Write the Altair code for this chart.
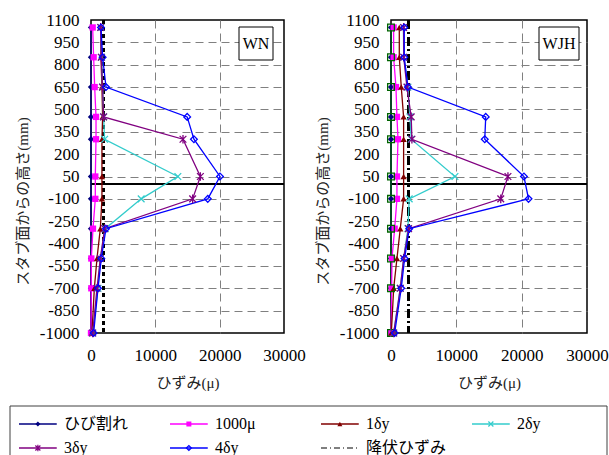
import altair as alt
import pandas as pd

# ---------------- data ----------------
heights = [1050, 850, 650, 450, 300, 50, -100, -300, -500, -700, -1000]
y_ticks = [1100, 950, 800, 650, 500, 350, 200, 50, -100, -250, -400, -550, -700, -850, -1000]
x_ticks = [0, 10000, 20000, 30000]

# WN
wn_crack = [0, 0, 0, 0, 0, 0, 0, 0, 0, 0, 0]
wn_1000 = [260, 410, 570, 780, 780, 670, 670, 310, 50, 50, 0]
wn_d1 = [1550, 1550, 1700, 1810, 1700, 1700, 1700, 1450, 930, 520, 150]
wn_d2 = [1550, 1650, 1800, 1960, 2120, 13500, 7800, 2220, 1450, 1090, 260]
wn_d3 = [1500, 1600, 1800, 1960, 14300, 17000, 15800, 2120, 1450, 930, 260]
wn_d4 = [1550, 1810, 2330, 14950, 16000, 20050, 18150, 2330, 1600, 1090, 410]
wn_yield = 1950

# WJH
wjh_crack = [0, 0, 0, 0, 0, 0, 0, 0, 0, 0, 0]
wjh_other = [0, 0, 0, 0, 0, 0, 0, 0, 0, 0, 0]
wjh_1000 = [400, 400, 760, 910, 1070, 910, 910, 560, 150, 100, 0]
wjh_d1 = [1270, 1270, 1570, 1930, 1930, 1930, 1930, 1420, 910, 410, 50]
wjh_d2 = [1900, 1950, 2590, 2900, 3100, 9790, 2790, 2590, 1930, 1420, 410]
wjh_d3 = [1930, 1950, 2440, 3090, 3200, 17900, 16800, 2690, 1930, 1420, 410]
wjh_d4 = [2030, 2030, 2590, 14500, 14350, 20350, 21050, 2790, 2080, 1570, 560]
wjh_yield = 2700

legend_names = ["ひび割れ", "1000μ", "1δy", "2δy", "3δy", "4δy", "降伏ひずみ"]
legend_col = [0, 1, 2, 3, 0, 1, 2]
legend_row = [0, 0, 0, 0, 1, 1, 1]

# ---------------- styles ----------------
color_map = {
    "ひび割れ": "#000080",
    "その他": "#006400",
    "1000μ": "#FF00FF",
    "1δy": "#800000",
    "2δy": "#33CCCC",
    "3δy": "#800080",
    "4δy": "#0000FF",
    "降伏ひずみ": "#000000",
}
X_PATH = "M-1,-1L1,1M-1,1L1,-1"
AST_PATH = "M-1,-1L1,1M-1,1L1,-1M0,-1.3L0,1.3"
shape_map = {
    "ひび割れ": "diamond",
    "その他": "square",
    "1000μ": "square",
    "1δy": "triangle-up",
    "2δy": X_PATH,
    "3δy": AST_PATH,
    "4δy": "diamond",
    "降伏ひずみ": "circle",
}
filled_series = ["ひび割れ", "1000μ", "1δy"]
open_series = ["その他", "2δy", "3δy", "4δy"]

color_scale = alt.Scale(domain=list(color_map.keys()), range=list(color_map.values()))
shape_scale = alt.Scale(domain=list(shape_map.keys()), range=list(shape_map.values()))

SERIF = "Liberation Serif, Noto Sans CJK JP"


def make_df(values):
    rows = []
    for s, vals in values.items():
        for i, (h, v) in enumerate(zip(heights, vals)):
            rows.append({"series": s, "h": h, "v": v, "idx": i})
    return pd.DataFrame(rows)


def panel(label, values, yld, ydash, ywidth, width, box_w):
    df = make_df(values)
    xs = alt.Scale(domain=[0, 30000], nice=False, zero=False)
    ys = alt.Scale(domain=[-1000, 1100], nice=False, zero=False)
    xax = alt.Axis(
        values=x_ticks, tickCount=10, title="ひずみ(μ)", labelExpr="'' + datum.value",
        grid=True, gridDash=[8, 5], gridColor="#808080", gridWidth=1,
        gridOpacity={"condition": {"test": "datum.value > 0 && datum.value < 30000", "value": 1}, "value": 0},
        ticks=False, domain=False, labelFont="Liberation Serif", labelFontSize=17, labelColor="black",
        labelFlush=False, labelOverlap=False, labelBound=False,
        labelPadding=14, titleFont=SERIF, titleFontSize=15, titleFontWeight="normal",
        titleColor="#222", titleY=49, titleBaseline="middle",
    )
    yax = alt.Axis(
        values=y_ticks, tickCount=30, title="スタブ面からの高さ(mm)", labelExpr="'' + datum.value",
        grid=True, gridDash=[8, 5], gridColor="#808080", gridWidth=1,
        gridOpacity={"condition": {"test": "datum.value > -1000 && datum.value < 1100", "value": 1}, "value": 0},
        ticks=False, domain=False, labelFont="Liberation Serif", labelFontSize=17, labelColor="black",
        labelFlush=False, labelOverlap=False, labelBound=False,
        labelPadding=12, titleFont=SERIF, titleFontSize=15, titleFontWeight="normal",
        titleColor="#222", titleX=-69, titleY=181, titleBaseline="middle",
    )
    x = alt.X("v:Q", scale=xs, axis=xax)
    y = alt.Y("h:Q", scale=ys, axis=yax)
    color = alt.Color("series:N", scale=color_scale, legend=None)
    shape = alt.Shape("series:N", scale=shape_scale, legend=None)
    base = alt.Chart(df)

    zero_rule = base.mark_rule(color="black", strokeWidth=1.2).encode(y=alt.datum(0))
    yield_rule = base.mark_rule(color="black", strokeWidth=ywidth, strokeDash=ydash).encode(x=alt.datum(yld))
    lines = base.mark_line(strokeWidth=1.3).encode(x=x, y=y, color=color, order="idx:Q")
    pts_f = base.transform_filter(
        alt.FieldOneOfPredicate(field="series", oneOf=filled_series)
    ).mark_point(filled=True, size=40, opacity=1).encode(x=x, y=y, color=color, shape=shape)
    pts_o = base.transform_filter(
        alt.FieldOneOfPredicate(field="series", oneOf=open_series)
    ).mark_point(filled=False, size=45, strokeWidth=1.3, opacity=1).encode(x=x, y=y, color=color, shape=shape)

    lab = pd.DataFrame({"t": [label]})
    box = alt.Chart(lab).mark_rect(fill="white", stroke="black", strokeWidth=1).encode(
        x=alt.value(148), x2=alt.value(148 + box_w), y=alt.value(7), y2=alt.value(40)
    )
    txt = alt.Chart(lab).mark_text(font="Liberation Serif", fontSize=16, color="black", baseline="middle").encode(
        x=alt.value(148 + box_w / 2), y=alt.value(24), text="t:N"
    )
    return alt.layer(zero_rule, yield_rule, lines, pts_f, pts_o, box, txt)


# ---------------- legend (drawn below, relative to the WN plot origin) ----------------
leg = pd.DataFrame({"series": legend_names, "col": legend_col, "row": legend_row})
leg["col_end"] = leg["col"] + 0.25
leg["col_mid"] = leg["col"] + 0.125
lxs = alt.Scale(domain=[0, 4], range=[-72, 532])
lys = alt.Scale(domain=[0, 1], range=[404, 428])
lbase = alt.Chart(leg)
lx = alt.X("col:Q", scale=lxs, axis=None)
ly = alt.Y("row:Q", scale=lys, axis=None)
lcolor = alt.Color("series:N", scale=color_scale, legend=None)
lshape = alt.Shape("series:N", scale=shape_scale, legend=None)

frame_df = pd.DataFrame({"k": [0]})
fb = alt.Chart(frame_df).mark_rule(color="#404040", strokeWidth=1)
frame_top = fb.encode(x=alt.value(-81), x2=alt.value(516), y=alt.value(386))
frame_left = fb.encode(x=alt.value(-81), y=alt.value(386), y2=alt.value(436))
frame_right = fb.encode(x=alt.value(516), y=alt.value(386), y2=alt.value(436))

leg_lines = lbase.transform_filter(alt.datum.series != "降伏ひずみ").mark_rule(strokeWidth=1.3).encode(
    x=lx, x2="col_end:Q", y=ly, color=lcolor
)
leg_yield = lbase.transform_filter(alt.datum.series == "降伏ひずみ").mark_rule(
    strokeWidth=1.2, strokeDash=[6, 3, 1, 3], color="black"
).encode(x=lx, x2="col_end:Q", y=ly)
leg_pf = lbase.transform_filter(
    alt.FieldOneOfPredicate(field="series", oneOf=filled_series)
).mark_point(filled=True, size=25, opacity=1).encode(
    x=alt.X("col_mid:Q", scale=lxs, axis=None), y=ly, color=lcolor, shape=lshape
)
leg_po = lbase.transform_filter(
    alt.FieldOneOfPredicate(field="series", oneOf=["2δy", "3δy", "4δy"])
).mark_point(filled=False, size=25, strokeWidth=1.2, opacity=1).encode(
    x=alt.X("col_mid:Q", scale=lxs, axis=None), y=ly, color=lcolor, shape=lshape
)
leg_txt = lbase.mark_text(align="left", baseline="middle", dx=45, font=SERIF, fontSize=16, color="black").encode(
    x=lx, y=ly, text="series:N"
)
legend_layer = alt.layer(frame_top, frame_left, frame_right, leg_lines, leg_yield, leg_pf, leg_po, leg_txt)

wn_panel = panel("WN", {
    "ひび割れ": wn_crack, "1000μ": wn_1000, "1δy": wn_d1,
    "2δy": wn_d2, "3δy": wn_d3, "4δy": wn_d4,
}, wn_yield, [4, 3], 1.3, 193, 34)

wn = alt.layer(wn_panel, legend_layer).resolve_scale(x="independent", y="independent").properties(
    width=193, height=313,
    view=alt.ViewBackground(stroke="black", strokeWidth=1.5),
)

wjh = panel("WJH", {
    "ひび割れ": wjh_crack, "その他": wjh_other, "1000μ": wjh_1000, "1δy": wjh_d1,
    "2δy": wjh_d2, "3δy": wjh_d3, "4δy": wjh_d4,
}, wjh_yield, [9, 3, 2, 3], 2.4, 196, 40).properties(
    width=196, height=313,
    view=alt.ViewBackground(stroke="black", strokeWidth=1.5),
)

chart = alt.hconcat(wn, wjh, spacing=107, bounds="flush").properties(
    padding={"left": 8, "top": 10, "right": 0, "bottom": 0},
    background="white",
).configure_view(stroke=None)

chart.save("out.html", embed_options={"renderer": "svg", "actions": False})
